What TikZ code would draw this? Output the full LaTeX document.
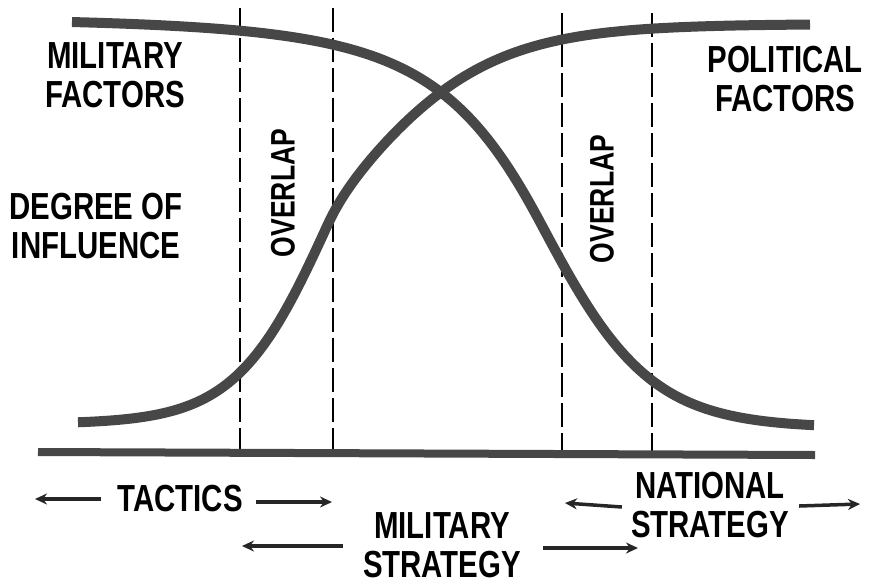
\documentclass[tikz,border=0pt]{standalone}
\usepackage{fontspec}
\setmainfont{Liberation Sans}[FakeStretch=0.78]
\usetikzlibrary{arrows.meta}
\begin{document}
\begin{tikzpicture}[
  x=1pt, y=-1pt,
  declare function={
    militarys(\t) = (\t > 540) ? 55 : 55 + 0.12*(540 - \t);
    militaryy(\t) = 16 + 412/(1 + exp(-(\t - 540)/militarys(\t)));
    politicals(\t) = (\t < 328) ? 46 : 46 + 27*(1 - exp(-(\t - 328)/40));
    politicaly(\t) = 424 - 400/(1 + exp(-(\t - 328)/politicals(\t)));
  },
  label/.style={font=\bfseries\fontsize{37.7}{38.5}\selectfont, align=center, inner sep=0pt},
  overlaplabel/.style={font=\bfseries\fontsize{34}{34}\selectfont, inner sep=0pt, rotate=90},
  curve/.style={line width=10pt, draw=black!72},
  divider/.style={line width=2.8pt, dash pattern=on 24pt off 6pt},
  span/.style={line width=3.5pt, draw=black!85, -{Stealth[length=12pt, width=11pt]}}
]
\useasboundingbox (0,0) rectangle (869,584);

\node[label] (militaryfactors) at (115,75) {MILITARY\\FACTORS};
\node[label] (politicalfactors) at (785,79) {POLITICAL\\FACTORS};
\node[label] (influence) at (96,226) {DEGREE OF\\INFLUENCE};
\node[overlaplabel] (overlapleft) at (283,193) {OVERLAP};
\node[overlaplabel] (overlapright) at (602,199) {OVERLAP};

\foreach \xpos/\ytop in {240/8, 333/8, 562/13, 652/13}
  \draw[divider] (\xpos,\ytop) -- (\xpos,452);

\draw[curve] plot[domain=72:814, samples=150, smooth] (\x, {militaryy(\x)});
\draw[curve] plot[domain=78:810, samples=150, smooth] (\x, {politicaly(\x)});

\draw[line width=8pt, draw=black!72] (38,452) -- (815,455);

\node[label] (tactics) at (180,499) {TACTICS};
\node[label] (militarystrategy) at (442,545) {MILITARY\\STRATEGY};
\node[label] (nationalstrategy) at (710,505) {NATIONAL\\STRATEGY};

\coordinate (tacticsend) at (35,499);
\coordinate (tacticsreach) at (332,502);
\coordinate (militaryend) at (242,546);
\coordinate (militaryreach) at (638,548);
\coordinate (nationalend) at (565,503);
\coordinate (nationalreach) at (860,504);

\draw[span] ([xshift=-16pt]tactics.west) -- (tacticsend);
\draw[span] ([xshift=13pt, yshift=-3pt]tactics.east) -- (tacticsreach);
\draw[span] ([xshift=-20pt, yshift=-1pt]militarystrategy.west) -- (militaryend);
\draw[span] ([xshift=22pt, yshift=-3pt]militarystrategy.east) -- (militaryreach);
\draw[span] ([xshift=-9pt, yshift=-2pt]nationalstrategy.west) -- (nationalend);
\draw[span] ([xshift=10pt, yshift=-1pt]nationalstrategy.east) -- (nationalreach);
\end{tikzpicture}
\end{document}
